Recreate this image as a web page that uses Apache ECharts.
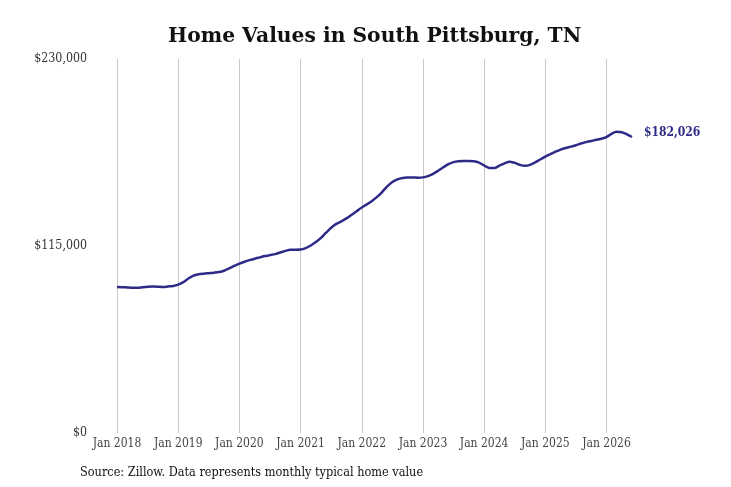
<!DOCTYPE html>
<html>
<head>
<meta charset="utf-8">
<script src="https://cdn.jsdelivr.net/npm/echarts@6/dist/echarts.min.js"></script>
<style>
	html, body { margin: 0; padding: 0; background: #fff; }
	#chart { width: 731px; height: 487px; }
</style>
</head>
<body>
<div id="chart"></div>
<script>
	// monthly typical home value, Jan 2018 - Jun 2026
	var monthNames = ['Jan', 'Feb', 'Mar', 'Apr', 'May', 'Jun', 'Jul', 'Aug', 'Sep', 'Oct', 'Nov', 'Dec'];
	var years = [2018, 2019, 2020, 2021, 2022, 2023, 2024, 2025, 2026];
	var values = [
		89800, 89700, 89500, 89300, 89300, 89600, 90000, 90100, 90000, 89800, 90100, 90400,
		91200, 92800, 95000, 96800, 97600, 98000, 98300, 98600, 99000, 99800, 101200, 102800,
		104200, 105300, 106300, 107200, 108000, 108800, 109400, 110000, 111000, 112000, 112700, 112700,
		112800, 113700, 115300, 117400, 120000, 123200, 126200, 128600, 130200, 132000, 134200, 136400,
		138700, 140600, 142700, 145200, 148200, 151700, 154400, 156000, 156800, 157100, 157200, 157000,
		157200, 158000, 159400, 161300, 163400, 165300, 166600, 167100, 167200, 167200, 167100, 166300,
		164500, 163000, 162900, 164400, 165800, 166800, 166100, 164900, 164300, 164900, 166400, 168200,
		170000, 171500, 173000, 174300, 175300, 176100, 177000, 178000, 178900, 179600, 180300, 181000,
		182000, 184000, 185200, 185000, 183700, 182026
	];
	var yTicks = [0, 115000, 230000];
	var endLabelText = '$182,026';
	var sourceText = 'Source: Zillow. Data represents monthly typical home value';

	var categories = [];
	for(var y = 0; y < years.length; y++) {
		for(var m = 0; m < 12; m++) {
			if(categories.length < values.length) categories.push(monthNames[m] + ' ' + years[y]);
		}
	}

	function isJan(index) {
		return index % 12 === 0;
	}

	var chart = echarts.init(document.getElementById('chart'));
	chart.setOption({
		animation: false,
		backgroundColor: '#ffffff',
		title: {
			text: 'Home Values in South Pittsburg, TN',
			left: 163,
			top: 22,
			textStyle: {
				fontFamily: 'DejaVu Serif',
				fontWeight: 'bold',
				fontSize: 20.3,
				color: '#111111'
			}
		},
		grid: {
			left: 117,
			right: 99,
			top: 59,
			bottom: 54
		},
		xAxis: {
			type: 'category',
			boundaryGap: false,
			data: categories,
			axisLine: { show: false },
			axisTick: { show: false },
			axisLabel: {
				interval: isJan,
				margin: 5,
				fontFamily: 'DejaVu Serif Condensed, DejaVu Serif',
				fontSize: 12,
				color: '#444444'
			},
			splitLine: {
				show: true,
				interval: isJan,
				lineStyle: { color: '#c8c8c8', width: 1 }
			}
		},
		yAxis: {
			type: 'value',
			min: yTicks[0],
			max: yTicks[2],
			interval: yTicks[1] - yTicks[0],
			axisLine: { show: false },
			axisTick: { show: false },
			splitLine: { show: false },
			axisLabel: {
				margin: 30,
				fontFamily: 'DejaVu Serif Condensed, DejaVu Serif',
				fontSize: 12.3,
				color: '#333333',
				formatter: function(v) {
					return '$' + v.toLocaleString('en-US');
				}
			}
		},
		series: [{
			type: 'line',
			data: values,
			showSymbol: false,
			smooth: 0.3,
			lineStyle: { color: '#2e2a87', width: 2.5 },
			itemStyle: { color: '#2e2a87' },
			endLabel: {
				show: true,
				distance: 12,
				offset: [0, -4],
				formatter: endLabelText,
				fontFamily: 'DejaVu Serif Condensed, DejaVu Serif',
				fontWeight: 'bold',
				fontSize: 12,
				color: '#2e2a87'
			}
		}],
		graphic: [{
			type: 'text',
			left: 80,
			top: 466,
			style: {
				text: sourceText,
				fontFamily: 'DejaVu Serif Condensed, DejaVu Serif',
				fontSize: 12.6,
				fill: '#111111'
			}
		}]
	});
</script>
</body>
</html>
